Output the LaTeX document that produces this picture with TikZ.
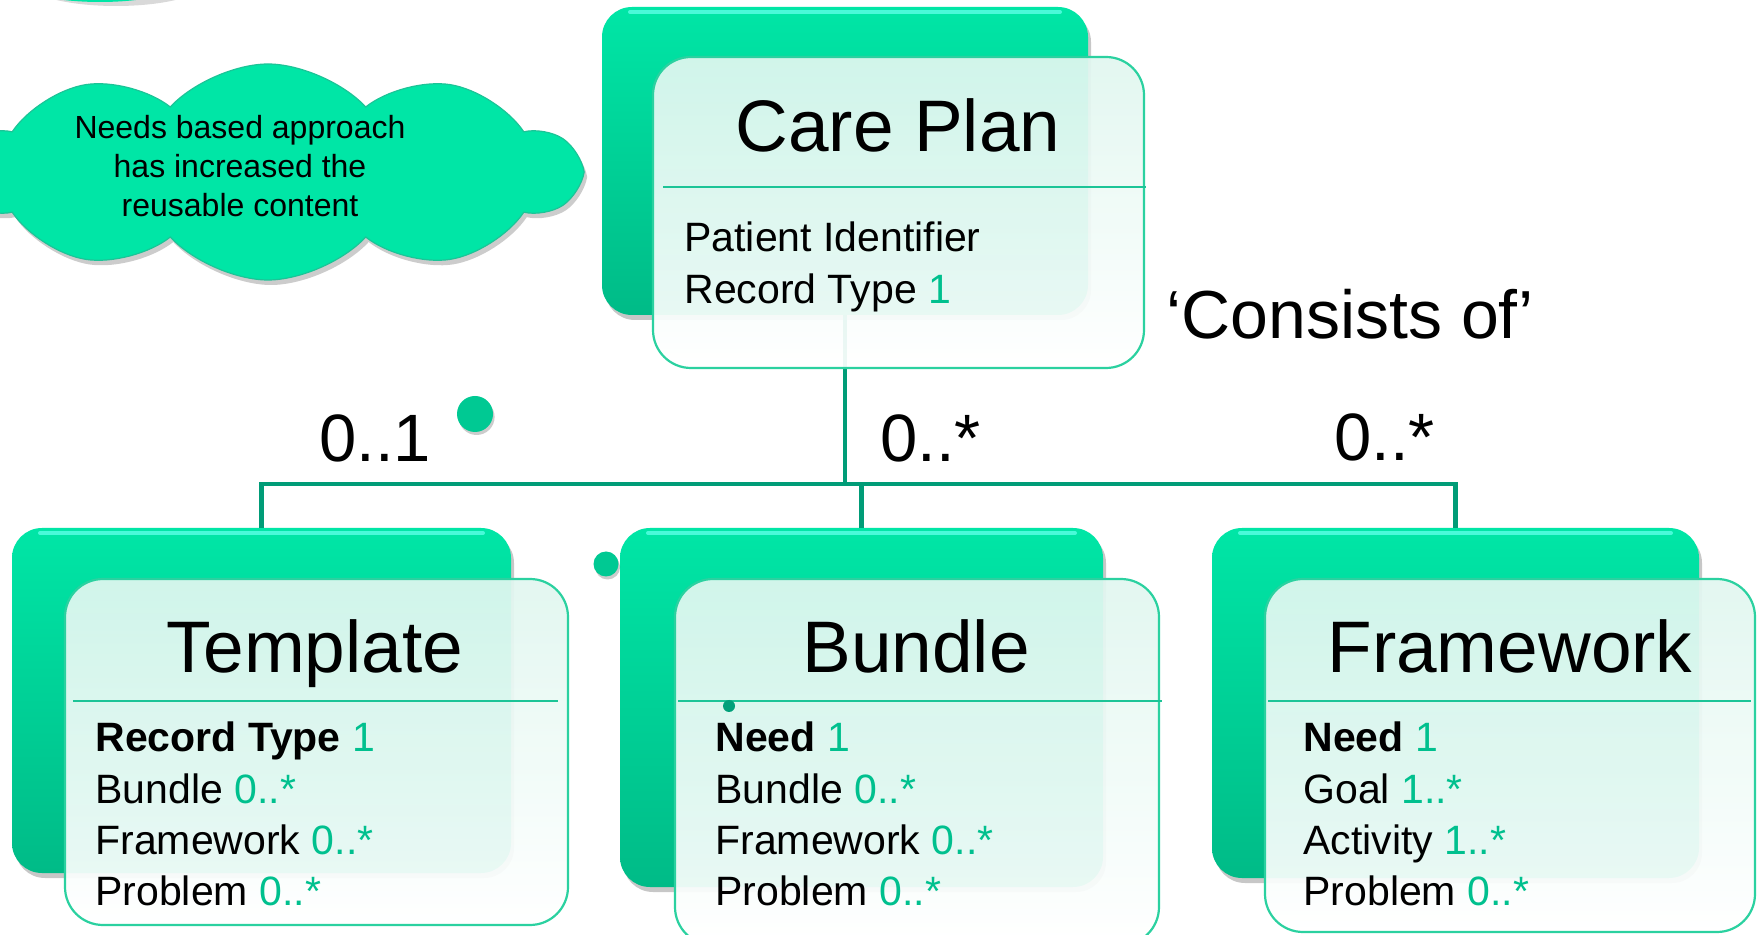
\documentclass[tikz,border=0pt]{standalone}
\usepackage{fontspec}
\setmainfont{Liberation Sans}
\usetikzlibrary{shapes.symbols,shapes.geometric,shadows}
\definecolor{bgtop}{HTML}{00E6A6}
\definecolor{bgbot}{HTML}{00BB87}
\definecolor{ftop}{HTML}{E1F7F0}
\definecolor{fline}{HTML}{2BD1A0}
\definecolor{sepc}{HTML}{1CC497}
\definecolor{connc}{HTML}{009C77}
\definecolor{tg}{HTML}{00C08E}
\definecolor{dotc}{HTML}{00C993}
\definecolor{hil}{HTML}{5CFFE6}
\tikzset{
  backbox/.style={rectangle, rounded corners=15pt, top color=bgtop, bottom color=bgbot, draw=none,
    inner sep=0pt, outer sep=0pt,
    drop shadow={shadow xshift=1.5pt, shadow yshift=-2.5pt, opacity=0.22, fill=black}},
  frontbox/.style={rectangle, rounded corners=19pt, draw=fline, line width=1.1pt, top color=ftop,
    bottom color=white, fill opacity=0.93, inner sep=0pt, outer sep=0pt},
  hilite/.style={draw=hil, line width=2pt, line cap=round, opacity=0.8},
  sepline/.style={draw=sepc, line width=1.4pt},
  conn/.style={draw=connc, line width=2.4pt},
  titletext/.style={anchor=base, inner sep=0pt, font=\fontsize{36.5}{40}\selectfont},
  itemtext/.style={anchor=base west, inner sep=0pt, font=\fontsize{20.5}{24}\selectfont},
  multtext/.style={anchor=base west, inner sep=0pt, font=\fontsize{33.5}{38}\selectfont},
  cloudtext/.style={anchor=base, inner sep=0pt, font=\fontsize{16}{19}\selectfont},
  dotshape/.style={circle, fill=dotc, inner sep=0pt, draw=none,
    drop shadow={shadow xshift=0.8pt, shadow yshift=-1.5pt, opacity=0.2, fill=black}},
}
\begin{document}
\begin{tikzpicture}[x=0.5pt, y=-0.5pt]
\useasboundingbox (0,0) rectangle (1758,935);
\clip (0,0) rectangle (1758,935);
\fill[white] (0,0) rectangle (1758,935);

% partial shape at top left edge
\node[ellipse, fill=bgtop, inner sep=0pt, minimum width=90pt, minimum height=24pt,
  drop shadow={shadow xshift=8pt, shadow yshift=-2pt, opacity=0.15, fill=black}] (topcut) at (100,-22) {};

% cloud
\node[cloud, cloud puffs=10, cloud puff arc=95, cloud ignores aspect, fill=bgtop, draw=sepc, line width=0.6pt,
  minimum width=310pt, minimum height=108pt, inner sep=0pt,
  drop shadow={shadow xshift=1.5pt, shadow yshift=-2.5pt, opacity=0.2, fill=black}] (cloud) at (268,172) {};
\node[cloudtext] (c1) at (240,139) {Needs based approach};
\node[cloudtext] (c2) at (240,178) {has increased the};
\node[cloudtext] (c3) at (240,217) {reusable content};

% back boxes
\node[backbox, minimum width=243pt, minimum height=154pt] (cpb) at (845,161) {};
\node[backbox, minimum width=249.5pt, minimum height=172.5pt] (tb) at (261.5,700.5) {};
\node[backbox, minimum width=241.5pt, minimum height=179.5pt] (bb) at (861.5,707.5) {};
\node[backbox, minimum width=243.5pt, minimum height=175pt] (fb) at (1455.5,703) {};
\foreach \b in {cpb,tb,bb,fb}{
  \draw[hilite] ([xshift=14pt,yshift=-2.5pt]\b.north west) -- ([xshift=-14pt,yshift=-2.5pt]\b.north east);
}

% connectors
\coordinate (hy) at (0,484);
\draw[conn] (cpb.south) -- (cpb.south |- hy);
\draw[conn] (tb.north) -- (tb.north |- hy) -- (fb.north |- hy) -- (fb.north);
\draw[conn] (bb.north) -- (bb.north |- hy);

% front boxes
\node[frontbox, minimum width=245.5pt, minimum height=155.5pt] (cpf) at (898.5,212.5) {};
\node[frontbox, minimum width=251.5pt, minimum height=173pt] (tf) at (316.5,752) {};
\node[frontbox, minimum width=242pt, minimum height=183pt] (bf) at (917,762) {};
\node[frontbox, minimum width=245pt, minimum height=176.5pt] (ff) at (1510,755.5) {};

% separators
\coordinate (s1a) at (663,187); \coordinate (s1b) at (1146,187);
\draw[sepline] (s1a) -- (s1b);
\coordinate (s2a) at (73,701); \coordinate (s2b) at (558,701);
\draw[sepline] (s2a) -- (s2b);
\coordinate (s3a) at (678,701); \coordinate (s3b) at (1162,701);
\draw[sepline] (s3a) -- (s3b);
\coordinate (s4a) at (1268,701); \coordinate (s4b) at (1751,701);
\draw[sepline] (s4a) -- (s4b);

% dots
\node[dotshape, minimum size=18pt] (d1) at (475,414) {};
\node[dotshape, minimum size=12.5pt] (d2) at (606,564) {};
\node[circle, fill=connc!90!dotc, inner sep=0pt, minimum size=6pt] (d3) at (729,706) {};

% Care Plan texts
\node[titletext] (cpt) at (898,152) {Care Plan};
\node[itemtext] (cp1) at (684,252) {Patient Identifier};
\node[itemtext] (cp2) at (684,304) {Record Type \textcolor{tg}{1}};

% Template
\node[titletext] (tt) at (315,673) {Template};
\node[itemtext] (t1) at (95,751) {\textbf{Record Type} \textcolor{tg}{1}};
\node[itemtext] (t2) at (95,803) {Bundle \textcolor{tg}{0..*}};
\node[itemtext] (t3) at (95,854) {Framework \textcolor{tg}{0..*}};
\node[itemtext] (t4) at (95,905) {Problem \textcolor{tg}{0..*}};

% Bundle
\node[titletext] (bt) at (916,673) {Bundle};
\node[itemtext] (b1) at (715,751) {\textbf{Need} \textcolor{tg}{1}};
\node[itemtext] (b2) at (715,803) {Bundle \textcolor{tg}{0..*}};
\node[itemtext] (b3) at (715,854) {Framework \textcolor{tg}{0..*}};
\node[itemtext] (b4) at (715,905) {Problem \textcolor{tg}{0..*}};

% Framework
\node[titletext] (ft) at (1510,673) {Framework};
\node[itemtext] (f1) at (1303,751) {\textbf{Need} \textcolor{tg}{1}};
\node[itemtext] (f2) at (1303,803) {Goal \textcolor{tg}{1..*}};
\node[itemtext] (f3) at (1303,854) {Activity \textcolor{tg}{1..*}};
\node[itemtext] (f4) at (1303,905) {Problem \textcolor{tg}{0..*}};

% labels
\node[multtext] (m1) at (319,462) {0..1};
\node[multtext] (m2) at (880,462) {0..*};
\node[multtext] (m3) at (1334,461) {0..*};
\node[anchor=base west, inner sep=0pt, font=\fontsize{34}{38}\selectfont] (cons) at (1166,339) {‘Consists of’};
\end{tikzpicture}
\end{document}
